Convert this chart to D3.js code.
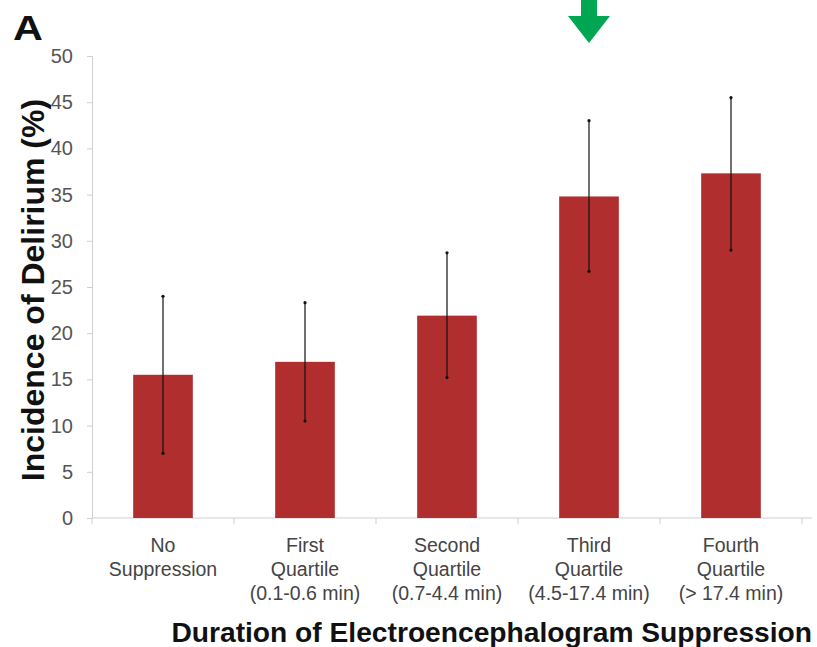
<!DOCTYPE html>
<html>
<head>
<meta charset="utf-8">
<script src="https://cdn.jsdelivr.net/npm/d3@7"></script>
<style>
  body { margin: 0; background: #fff; }
  svg { font-family: "Liberation Sans", Arial, sans-serif; }
</style>
</head>
<body>
<script>
// chart data
var categories = ["No Suppression", "First Quartile", "Second Quartile", "Third Quartile", "Fourth Quartile"];
var labelLines = [
  ["No", "Suppression"],
  ["First", "Quartile", "(0.1-0.6 min)"],
  ["Second", "Quartile", "(0.7-4.4 min)"],
  ["Third", "Quartile", "(4.5-17.4 min)"],
  ["Fourth", "Quartile", "(> 17.4 min)"]
];
var incidence = [15.5, 16.9, 21.9, 34.8, 37.3];
var errLow = [7.0, 10.5, 15.2, 26.7, 29.0];
var errHigh = [24.0, 23.3, 28.7, 43.0, 45.5];
var yTicks = [0, 5, 10, 15, 20, 25, 30, 35, 40, 45, 50];
var highlighted = "Third Quartile";

var W = 817, H = 647;
var margin = {top: 56, right: 16, bottom: 129, left: 92},
    width = 802 - margin.left,
    height = 518 - margin.top;

var svg = d3.select("body").append("svg")
    .attr("width", W)
    .attr("height", H);

var g = svg.append("g")
    .attr("transform", "translate(" + margin.left + "," + margin.top + ")");

var x = d3.scaleBand().domain(categories).range([0, width]).paddingInner(0.58).paddingOuter(0.29);
var y = d3.scaleLinear().domain([0, 50]).range([height, 0]);

// y axis
var yAxis = g.append("g")
    .call(d3.axisLeft(y).tickValues(yTicks).tickSize(5).tickPadding(14));
yAxis.select(".domain").attr("stroke", "#cfcfcf");
yAxis.selectAll(".tick line").attr("stroke", "#cfcfcf");
yAxis.selectAll(".tick text")
    .attr("fill", "#555")
    .style("font-size", "20px");

// x axis: line + ticks between categories
var xAxisG = g.append("g").attr("transform", "translate(0," + height + ")");
xAxisG.append("line")
    .attr("x1", 0).attr("x2", 720)
    .attr("stroke", "#cfcfcf");
var bounds = d3.range(0, categories.length + 1).map(function(i) { return i * width / categories.length; });
xAxisG.selectAll(".btick")
    .data(bounds)
    .enter().append("line")
    .attr("x1", function(d) { return d; })
    .attr("x2", function(d) { return d; })
    .attr("y1", 0).attr("y2", 6)
    .attr("stroke", "#cfcfcf");

// category labels
var lab = xAxisG.selectAll(".cat")
    .data(categories)
    .enter().append("text")
    .attr("text-anchor", "middle")
    .attr("fill", "#444")
    .style("font-size", "19.5px")
    .attr("transform", function(d) { return "translate(" + (x(d) + x.bandwidth() / 2) + ",34)"; });
lab.selectAll("tspan")
    .data(function(d, i) { return labelLines[i]; })
    .enter().append("tspan")
    .attr("x", 0)
    .attr("dy", function(d, i) { return i === 0 ? 0 : 24; })
    .text(function(d) { return d; });

// bars
g.selectAll(".bar")
    .data(categories)
    .enter().append("rect")
    .attr("x", function(d) { return x(d); })
    .attr("width", x.bandwidth())
    .attr("y", function(d, i) { return y(incidence[i]); })
    .attr("height", function(d, i) { return height - y(incidence[i]); })
    .attr("fill", "#b02e2e");

// error bars
var eb = g.selectAll(".err")
    .data(categories)
    .enter().append("g")
    .attr("transform", function(d) { return "translate(" + (x(d) + x.bandwidth() / 2) + ",0)"; });
eb.append("line")
    .attr("y1", function(d, i) { return y(errLow[i]); })
    .attr("y2", function(d, i) { return y(errHigh[i]); })
    .attr("stroke", "#111")
    .attr("stroke-width", 1.2);
eb.append("circle")
    .attr("cy", function(d, i) { return y(errLow[i]); })
    .attr("r", 1.6).attr("fill", "#111");
eb.append("circle")
    .attr("cy", function(d, i) { return y(errHigh[i]); })
    .attr("r", 1.6).attr("fill", "#111");

// axis titles
svg.append("text")
    .attr("transform", "translate(44,290) rotate(-90)")
    .attr("text-anchor", "middle")
    .attr("fill", "#111")
    .style("font-size", "32px")
    .style("font-weight", "bold")
    .text("Incidence of Delirium (%)");

svg.append("text")
    .attr("x", 812)
    .attr("y", 642)
    .attr("text-anchor", "end")
    .attr("fill", "#111")
    .style("font-size", "28.2px")
    .style("font-weight", "bold")
    .text("Duration of Electroencephalogram Suppression");

// panel letter
svg.append("text")
    .attr("transform", "translate(13,40) scale(1.15,1)")
    .attr("fill", "#111")
    .style("font-size", "36px")
    .style("font-weight", "bold")
    .text("A");

// green arrow over highlighted bar
var ax = margin.left + x(highlighted) + x.bandwidth() / 2;
svg.append("path")
    .attr("d", "M" + (ax - 8) + ",0 L" + (ax + 8) + ",0 L" + (ax + 8) + ",16 L" + (ax + 21) + ",16 L" + ax + ",43 L" + (ax - 21) + ",16 L" + (ax - 8) + ",16 Z")
    .attr("fill", "#00a651");
</script>
</body>
</html>
